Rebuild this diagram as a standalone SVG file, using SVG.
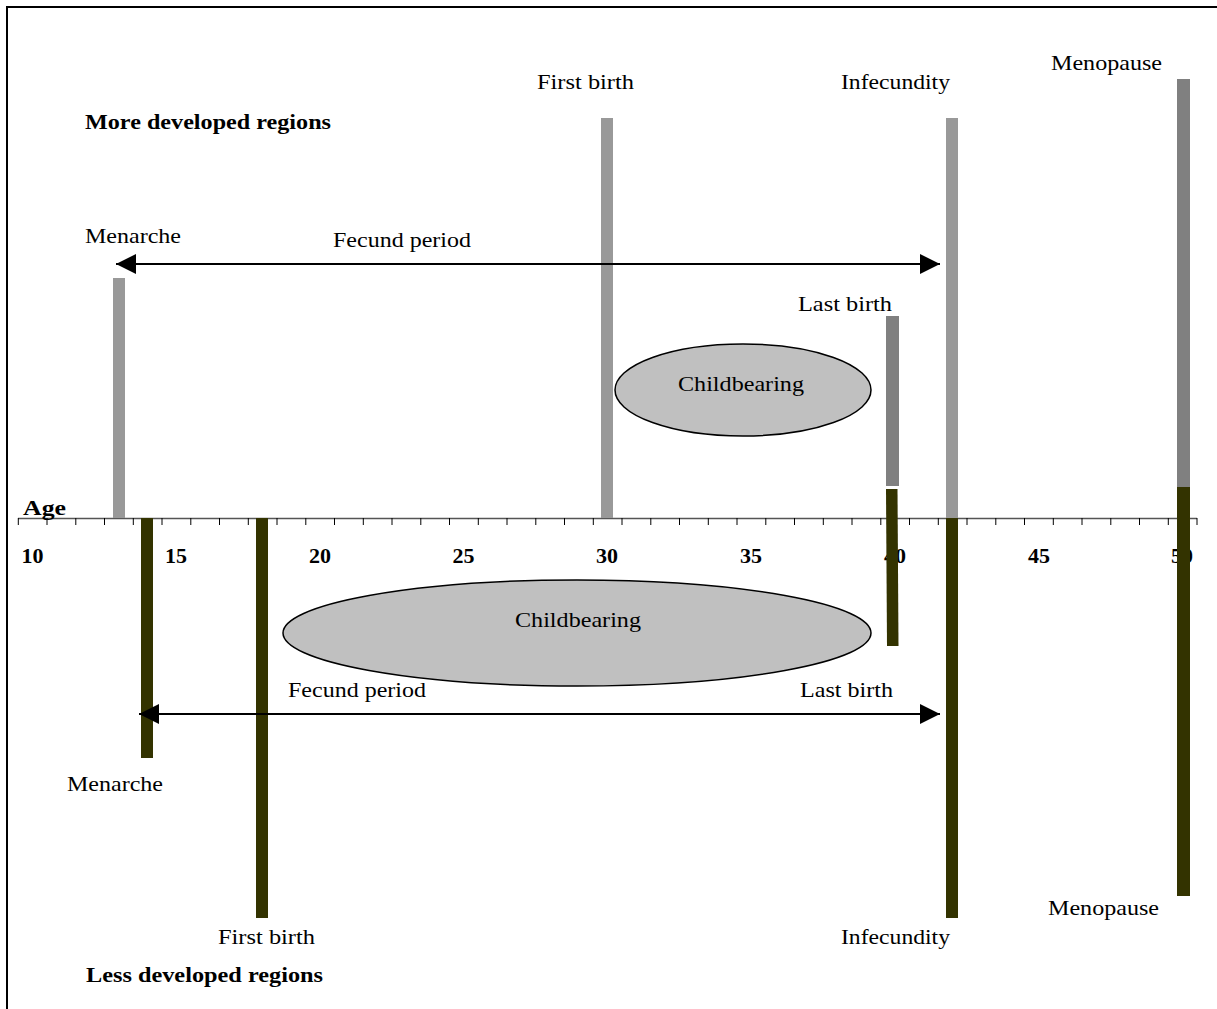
<svg xmlns="http://www.w3.org/2000/svg" width="1217" height="1009" viewBox="0 0 1217 1009">
<defs>
<style>
.t{font-family:"Liberation Serif","Times New Roman",serif;font-size:22px;fill:#000}
.b{font-weight:bold}
.n{font-family:"Liberation Serif","Times New Roman",serif;font-size:22px;font-weight:bold;text-anchor:middle}
.lg{fill:#999999}
.mg{fill:#808080}
.dk{fill:#333300}
.el{fill:#c0c0c0;stroke:#000;stroke-width:1.5}
.ar{stroke:#000;stroke-width:2;fill:none}
</style>
<marker id="ah" viewBox="0 0 10 10" refX="10" refY="5" markerWidth="22" markerHeight="20" markerUnits="userSpaceOnUse" orient="auto-start-reverse">
<path d="M0,0 L10,5 L0,10 z" fill="#000"/>
</marker>
</defs>
<rect width="1217" height="1009" fill="#fff"/>
<rect x="7" y="7" width="1220" height="1020" fill="none" stroke="#000" stroke-width="2"/>

<g id="axis">
<line x1="18" y1="518.5" x2="1197" y2="518.5" stroke="#555" stroke-width="1.5"/>
<path id="ticks" stroke="#000" stroke-width="1" fill="none" d="M18.3,518V525 M47.0,518V525 M75.8,518V525 M104.5,518V525 M133.3,518V525 M162.0,518V525 M190.8,518V525 M219.5,518V525 M248.3,518V525 M277.0,518V525 M305.8,518V525 M334.5,518V525 M363.3,518V525 M392.0,518V525 M420.8,518V525 M449.5,518V525 M478.3,518V525 M507.0,518V525 M535.8,518V525 M564.5,518V525 M593.3,518V525 M622.0,518V525 M650.8,518V525 M679.5,518V525 M708.3,518V525 M737.0,518V525 M765.8,518V525 M794.5,518V525 M823.3,518V525 M852.0,518V525 M880.8,518V525 M909.5,518V525 M938.3,518V525 M967.0,518V525 M995.8,518V525 M1024.5,518V525 M1053.3,518V525 M1082.0,518V525 M1110.8,518V525 M1139.5,518V525 M1168.3,518V525 M1197.0,518V525"/>
<text class="t b" x="23" y="515" textLength="43" lengthAdjust="spacingAndGlyphs">Age</text>
<text class="n" x="32.5" y="563">10</text>
<text class="n" x="176" y="563">15</text>
<text class="n" x="320" y="563">20</text>
<text class="n" x="463.5" y="563">25</text>
<text class="n" x="607" y="563">30</text>
<text class="n" x="751" y="563">35</text>
<text class="n" x="895" y="563">40</text>
<text class="n" x="1039" y="563">45</text>
<text class="n" x="1182" y="563">50</text>
</g>

<g id="more-developed">
<text class="t b" x="85" y="129" textLength="246" lengthAdjust="spacingAndGlyphs">More developed regions</text>
<g id="md-menarche"><rect class="lg" x="113" y="278" width="12" height="240"/><text class="t" x="85" y="243" textLength="96" lengthAdjust="spacingAndGlyphs">Menarche</text></g>
<g id="md-firstbirth"><rect class="lg" x="601" y="118" width="12" height="400"/><text class="t" x="537" y="89" textLength="97" lengthAdjust="spacingAndGlyphs">First birth</text></g>
<g id="md-infecundity"><rect class="lg" x="946" y="118" width="12" height="400"/><text class="t" x="841" y="89" textLength="109" lengthAdjust="spacingAndGlyphs">Infecundity</text></g>
<g id="md-lastbirth"><rect class="mg" x="886" y="316" width="13" height="170"/><text class="t" x="798" y="311" textLength="94" lengthAdjust="spacingAndGlyphs">Last birth</text></g>
<g id="md-menopause"><rect class="mg" x="1177" y="79" width="13" height="408"/><text class="t" x="1051" y="70" textLength="111" lengthAdjust="spacingAndGlyphs">Menopause</text></g>
<g id="md-childbearing"><ellipse class="el" cx="743" cy="390" rx="128" ry="46"/><text class="t" x="678" y="391" textLength="126" lengthAdjust="spacingAndGlyphs">Childbearing</text></g>
<text class="t" x="333" y="247" textLength="138" lengthAdjust="spacingAndGlyphs">Fecund period</text>
</g>

<g id="less-developed">
<text class="t b" x="86" y="982" textLength="237" lengthAdjust="spacingAndGlyphs">Less developed regions</text>
<g id="ld-childbearing"><ellipse class="el" cx="577" cy="633" rx="294" ry="53"/><text class="t" x="515" y="627" textLength="126" lengthAdjust="spacingAndGlyphs">Childbearing</text></g>
<g id="ld-menarche"><rect class="dk" x="141" y="518" width="12" height="240"/><text class="t" x="67" y="791" textLength="96" lengthAdjust="spacingAndGlyphs">Menarche</text></g>
<g id="ld-firstbirth"><rect class="dk" x="256" y="518" width="12" height="400"/><text class="t" x="218" y="944" textLength="97" lengthAdjust="spacingAndGlyphs">First birth</text></g>
<g id="ld-lastbirth"><polygon class="dk" points="886,489 897.5,489 898.5,646 887,646"/><text class="t" x="800" y="697" textLength="93" lengthAdjust="spacingAndGlyphs">Last birth</text></g>
<g id="ld-infecundity"><rect class="dk" x="946" y="518" width="12" height="400"/><text class="t" x="841" y="944" textLength="109" lengthAdjust="spacingAndGlyphs">Infecundity</text></g>
<g id="ld-menopause"><rect class="dk" x="1177" y="487" width="13" height="409"/><text class="t" x="1048" y="915" textLength="111" lengthAdjust="spacingAndGlyphs">Menopause</text></g>
<text class="t" x="288" y="697" textLength="138" lengthAdjust="spacingAndGlyphs">Fecund period</text>
</g>

<g id="connectors">
<line class="ar" x1="116" y1="264" x2="940" y2="264" marker-start="url(#ah)" marker-end="url(#ah)"/>
<line class="ar" x1="139" y1="714" x2="940" y2="714" marker-start="url(#ah)" marker-end="url(#ah)"/>
</g>
</svg>
